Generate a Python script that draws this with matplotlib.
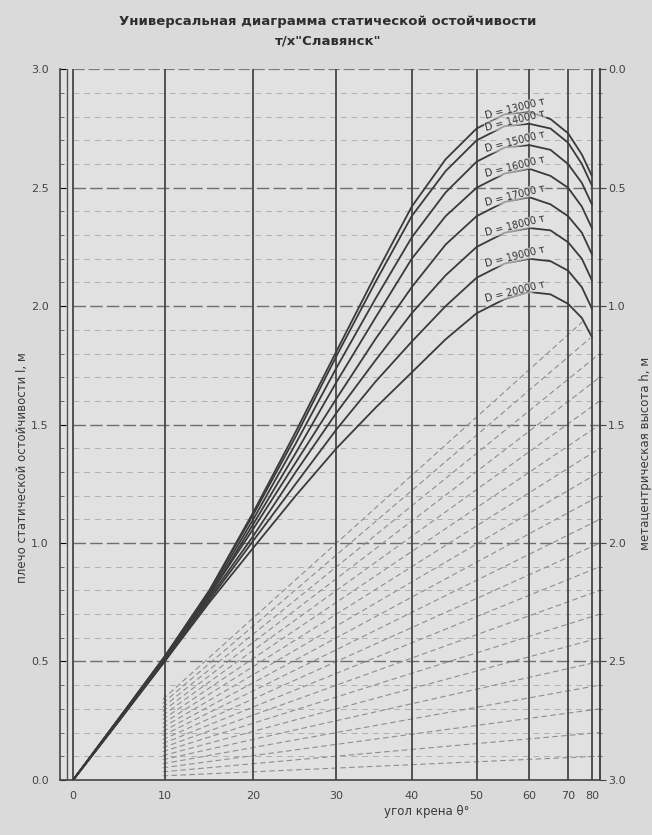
import numpy as np
import matplotlib.pyplot as plt
from matplotlib.ticker import MultipleLocator

# Texts
title_1 = 'Универсальная диаграмма статической остойчивости'
title_2 = 'т/х"Славянск"'
x_label = 'угол крена θ°'
y_label = 'плечо статической остойчивости l, м'
y2_label = 'метацентрическая высота h, м'

angles = [0, 5, 10, 15, 20, 25, 30, 35, 40, 45, 50, 55, 60, 65, 70, 75, 80]

# Righting arm l (m) per displacement D (t)
arm_13000 = [0, .26, .52, .80, 1.13, 1.47, 1.81, 2.13, 2.42, 2.62, 2.75, 2.81, 2.82, 2.79, 2.73, 2.64, 2.55]
arm_14000 = [0, .26, .52, .80, 1.12, 1.45, 1.79, 2.10, 2.38, 2.57, 2.70, 2.76, 2.77, 2.75, 2.69, 2.60, 2.51]
arm_15000 = [0, .26, .52, .79, 1.10, 1.42, 1.74, 2.03, 2.29, 2.48, 2.61, 2.67, 2.68, 2.66, 2.60, 2.52, 2.43]
arm_16000 = [0, .26, .51, .78, 1.08, 1.38, 1.68, 1.95, 2.20, 2.38, 2.50, 2.56, 2.58, 2.55, 2.50, 2.42, 2.33]
arm_17000 = [0, .25, .51, .78, 1.06, 1.34, 1.61, 1.86, 2.08, 2.26, 2.38, 2.44, 2.46, 2.43, 2.38, 2.31, 2.22]
arm_18000 = [0, .25, .51, .77, 1.03, 1.30, 1.55, 1.77, 1.97, 2.13, 2.25, 2.31, 2.33, 2.32, 2.27, 2.20, 2.11]
arm_19000 = [0, .25, .50, .76, 1.01, 1.25, 1.48, 1.68, 1.85, 2.00, 2.12, 2.18, 2.20, 2.19, 2.15, 2.08, 1.99]
arm_20000 = [0, .25, .50, .75, 0.98, 1.20, 1.40, 1.57, 1.72, 1.86, 1.97, 2.03, 2.06, 2.05, 2.01, 1.95, 1.87]

displacements = [13000, 14000, 15000, 16000, 17000, 18000, 19000, 20000]
arms = [arm_13000, arm_14000, arm_15000, arm_16000, arm_17000, arm_18000, arm_19000, arm_20000]

angle_ticks = [0, 10, 20, 30, 40, 50, 60, 70, 80]
l_ticks = [0.0, 0.5, 1.0, 1.5, 2.0, 2.5, 3.0]
l_tick_labels = ['0.0', '0.5', '1.0', '1.5', '2.0', '2.5', '3.0']
h_ticks = [0.0, 0.5, 1.0, 1.5, 2.0, 2.5, 3.0]
h_tick_labels = ['0.0', '0.5', '1.0', '1.5', '2.0', '2.5', '3.0']

# h-rays end on the right scale every 0.1 m
ray_ends = np.round(np.arange(0.1, 2.05, 0.1), 1)

paper = '#dadada'
ink = '#3a3a3a'

fig = plt.figure(figsize=(6.52, 8.35), dpi=100)
fig.patch.set_facecolor(paper)
ax = fig.add_axes([0.092, 0.066, 0.828, 0.851])
ax.set_facecolor('#e1e1e1')

def sx(a):
    return np.sin(np.radians(a))

ax.set_xlim(-0.025, 1.0)
ax.set_ylim(0, 3.0)

# thin horizontal grid every 0.1, stronger every 0.5
x0_frac = 0.025 / 1.025
for v in np.round(np.arange(0.1, 3.0, 0.1), 1):
    if abs(v * 2 - round(v * 2)) < 1e-6:
        ax.axhline(v, xmin=x0_frac, color='#6e6e6e', lw=1.0, dashes=(9, 3), zorder=1)
    else:
        ax.axhline(v, xmin=x0_frac, color='#b0b0b0', lw=0.7, dashes=(6, 5), zorder=1)
ax.axhline(3.0, xmin=x0_frac, color='#7a7a7a', lw=0.9, dashes=(9, 3), zorder=1)

# vertical angle lines
for a in angle_ticks:
    ax.axvline(sx(a), color='#474747', lw=1.3, zorder=2)
ax.axvline(-0.012, color='#555555', lw=1.0, zorder=2)

# dashed rays below the lowest curve
xs_arm = sx(np.array(angles))
xr = np.linspace(0.17, 1.0, 500)
low = np.interp(xr, xs_arm, arm_20000)
for c in ray_ends:
    yr = c * xr
    yr = np.where(yr < low - 0.01, yr, np.nan)
    ax.plot(xr, yr, color='#8e8e8e', lw=0.8, dashes=(5, 3), zorder=1.5)

# stability curves
for D, arm in zip(displacements, arms):
    ax.plot(xs_arm, arm, color=ink, lw=1.3, zorder=3)
    lx = sx(57)
    ly = np.interp(lx, xs_arm, arm) + 0.02
    ax.text(lx, ly, f'D = {D} т', fontsize=7, color='#333333', rotation=14,
            ha='center', va='center', zorder=4,
            bbox=dict(boxstyle='square,pad=0.05', fc='#e1e1e1', ec='none', alpha=0.6))

# axes styling
for s in ['left', 'right', 'bottom']:
    ax.spines[s].set_color('#444444')
    ax.spines[s].set_linewidth(1.2)
ax.spines['top'].set_visible(False)

ax.set_xticks([sx(a) for a in angle_ticks])
ax.set_xticklabels([str(a) for a in angle_ticks])
ax.set_yticks(l_ticks)
ax.set_yticklabels(l_tick_labels)
ax.yaxis.set_minor_locator(MultipleLocator(0.1))
ax.tick_params(axis='x', length=0, pad=8, labelsize=8, labelcolor='#444444')
ax.tick_params(axis='y', which='major', length=4, direction='in', pad=8, labelsize=8, labelcolor='#444444')
ax.tick_params(axis='y', which='minor', length=3, direction='in', color='#555555')

ax.set_xlabel(x_label, fontsize=8.5, color='#3a3a3a')
ax.xaxis.set_label_coords(0.68, -0.036)
ax.set_ylabel(y_label, fontsize=8.5, color='#3a3a3a')
ax.yaxis.set_label_coords(-0.057, 0.44)

ax2 = ax.twinx()
ax2.set_ylim(3.0, 0.0)
ax2.set_yticks(h_ticks)
ax2.set_yticklabels(h_tick_labels)
ax2.yaxis.set_minor_locator(MultipleLocator(0.1))
ax2.tick_params(axis='y', which='major', length=4, direction='out', pad=2, labelsize=8,
                labelcolor='#444444', color='#444444')
ax2.tick_params(axis='y', which='minor', length=3, direction='inout', color='#555555')
for s in ['left', 'top', 'bottom']:
    ax2.spines[s].set_visible(False)
ax2.spines['right'].set_color('#444444')
ax2.spines['right'].set_linewidth(1.2)
ax2.set_ylabel(y2_label, fontsize=8.5, color='#3a3a3a', rotation=90)
ax2.yaxis.set_label_coords(1.072, 0.46)

fig.text(0.503, 1 - 22 / 835, title_1, ha='center', va='center', fontsize=9.5,
         color='#2e2e2e', fontweight='bold')
fig.text(0.503, 1 - 41 / 835, title_2, ha='center', va='center', fontsize=9.5,
         color='#2e2e2e', fontweight='bold')

plt.savefig('out.png', dpi=100, facecolor=paper)
